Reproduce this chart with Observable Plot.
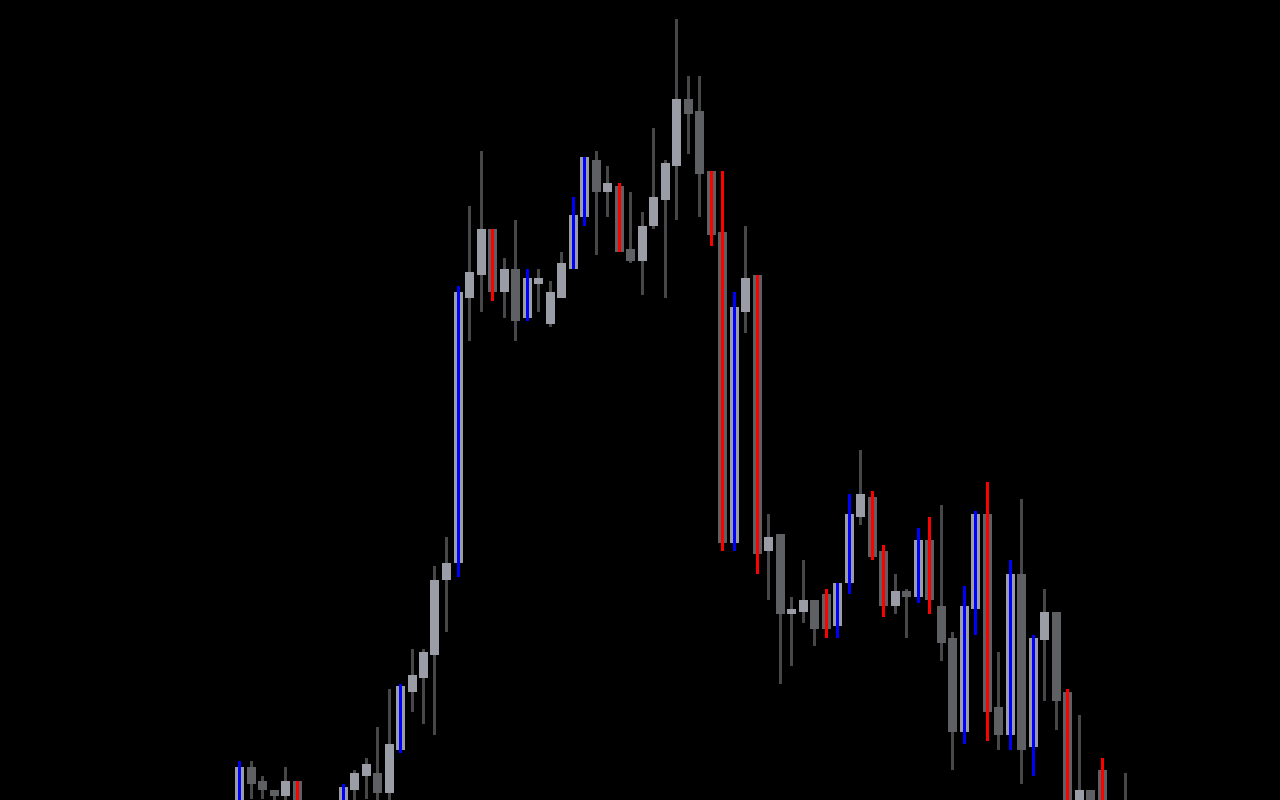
<!DOCTYPE html>
<html>
<head>
<meta charset="utf-8">
<script src="https://cdn.jsdelivr.net/npm/d3@7"></script>
<script src="https://cdn.jsdelivr.net/npm/@observablehq/plot@0.6"></script>
<style>
  html, body { margin: 0; padding: 0; background: #000; overflow: hidden; }
  #chart svg { display: block; shape-rendering: crispEdges; }
</style>
</head>
<body>
<div id="chart"></div>
<script>
// Candle index (session number); sessions 6-8 and 76 lie fully below the visible window
const idx = [0,1,2,3,4,5,9,10,11,12,13,14,15,16,17,18,19,20,21,22,23,24,25,26,27,28,29,30,31,32,33,34,35,36,37,38,39,40,41,42,43,44,45,46,47,48,49,50,51,52,53,54,55,56,57,58,59,60,61,62,63,64,65,66,67,68,69,70,71,72,73,74,75,77];
const open  = [98.50,104.13,102.38,101.25,100.50,102.38,99.00,101.25,103.00,103.38,100.88,106.25,113.50,115.25,118.13,127.50,129.63,162.75,165.63,171.38,163.50,166.38,160.25,164.50,159.50,162.75,166.38,172.88,180.00,176.00,176.75,168.88,167.38,171.75,175.00,179.25,187.63,186.13,178.63,171.00,132.13,161.00,165.63,131.13,133.25,123.25,123.50,125.00,125.75,121.75,127.13,135.38,137.88,131.13,124.25,126.13,125.38,132.50,124.25,120.25,108.50,123.88,135.75,111.63,108.13,128.25,106.63,120.00,123.50,113.50,99.50,101.25,103.75,99.50];
const high  = [104.88,104.88,103.00,101.25,104.13,102.38,102.00,103.75,105.25,109.13,113.88,114.50,118.88,118.88,129.25,132.88,164.25,174.25,181.13,171.38,167.75,172.50,166.38,166.38,164.88,168.50,175.38,180.38,181.13,179.25,177.13,176.00,173.50,184.00,180.00,197.63,190.50,190.50,178.63,178.63,163.50,171.75,165.63,135.75,133.25,125.38,130.00,125.00,126.38,127.13,138.25,143.75,138.63,131.88,128.25,126.38,134.00,135.38,136.88,121.00,126.75,136.13,139.75,118.50,130.00,137.63,120.63,126.38,123.50,113.88,110.63,101.25,105.25,103.38];
const low   = [97.00,100.13,100.13,99.50,99.60,97.50,98.00,99.80,100.13,99.90,99.90,105.88,111.00,109.50,108.13,121.00,127.88,157.38,161.00,162.38,160.25,157.38,159.88,161.00,159.13,162.75,166.38,171.75,168.13,172.88,168.50,167.13,163.13,171.38,162.75,172.50,180.75,172.88,169.25,131.13,131.13,158.38,128.25,125.00,114.50,116.75,122.13,119.25,120.25,120.25,125.75,134.38,130.00,122.88,123.25,120.25,124.63,123.25,117.38,103.75,107.00,120.63,107.38,106.25,106.25,102.00,103.00,112.38,108.75,97.50,98.50,98.00,98.00,97.50];
const close = [104.13,102.00,101.25,100.50,102.38,99.00,101.63,103.38,104.50,100.88,107.00,114.25,115.63,118.50,127.50,129.63,163.50,166.00,171.38,163.50,166.38,159.88,165.25,165.25,163.50,167.13,173.13,180.38,176.00,177.13,168.50,167.38,171.75,175.38,179.63,187.63,185.75,178.25,170.63,132.13,161.63,165.25,130.75,132.88,123.25,123.88,125.00,121.38,121.38,127.13,135.75,138.25,130.38,124.25,126.13,125.38,132.50,125.00,119.63,108.50,124.25,135.75,111.00,108.13,128.25,106.25,120.25,123.50,112.38,99.00,101.25,99.00,99.20,98.50];
// 1 = candle highlighted with a coloured high-low line
const flag  = [1,0,0,0,0,1,1,0,0,0,0,1,0,0,0,0,1,0,0,1,0,0,1,0,0,0,1,1,0,0,1,0,0,0,0,0,0,0,1,1,1,0,1,0,0,0,0,0,1,1,1,0,1,1,0,0,1,1,0,0,1,1,1,0,1,0,1,0,0,1,0,0,1,0];

const candles = idx.map((i, k) => ({
  i, open: open[k], high: high[k], low: low[k], close: close[k],
  up: close[k] >= open[k], flag: flag[k] === 1
}));

const W = 1280, H = 800;
const step = 11.5, first = 239;

const chart = Plot.plot({
  width: W,
  height: H,
  margin: 0,
  style: { background: "#000" },
  x: { type: "linear", domain: [-first / step, (W - first) / step], round: true, axis: null },
  y: { domain: [100, 200], axis: null },
  marks: [
    // plain wicks
    Plot.rect(candles.filter(d => !d.flag), {
      x1: "i", x2: "i", y1: "low", y2: "high",
      insetLeft: -1, insetRight: -2,
      fill: "#47474a", clip: true
    }),
    // bodies
    Plot.rect(candles, {
      x1: "i", x2: "i", y1: "open", y2: "close",
      insetLeft: -4, insetRight: -5,
      fill: d => d.up ? "#9a9ca6" : "#5f6063", clip: true
    }),
    // highlighted high-low lines
    Plot.rect(candles.filter(d => d.flag), {
      x1: "i", x2: "i", y1: "low", y2: "high",
      insetLeft: -1, insetRight: -2,
      fill: d => d.up ? "#0000ff" : "#ff0000", clip: true
    })
  ]
});
document.getElementById("chart").appendChild(chart);
</script>
</body>
</html>
